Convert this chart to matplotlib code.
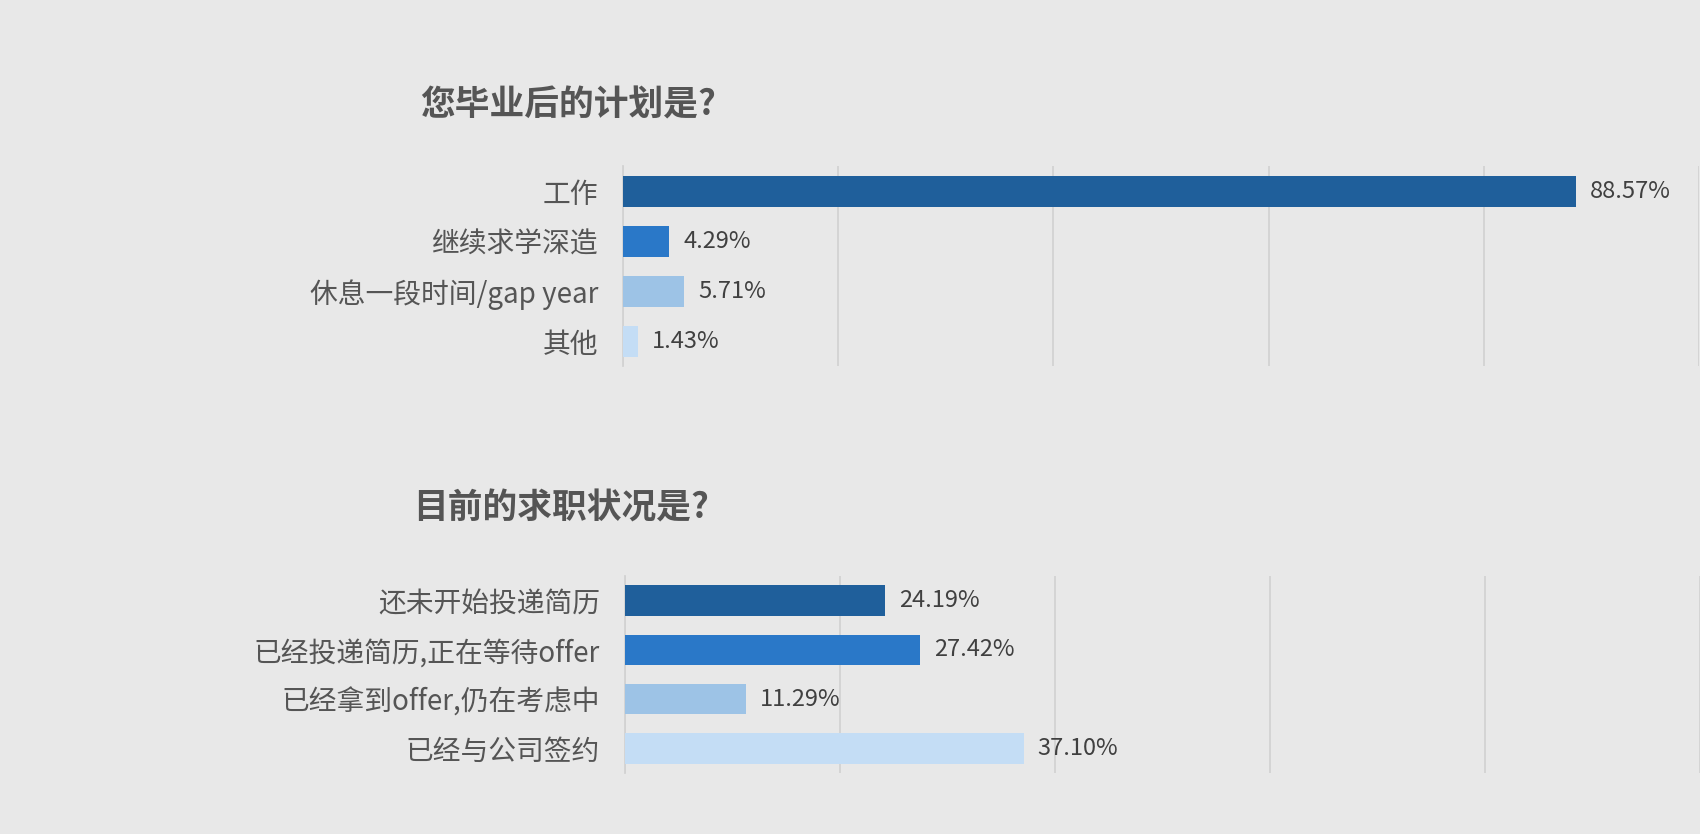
import matplotlib
matplotlib.use("Agg")
import matplotlib.pyplot as plt

plt.rcParams['font.family'] = ['Noto Sans CJK SC', 'DejaVu Sans']

title1 = "您毕业后的计划是?"
cats1 = ["工作", "继续求学深造", "休息一段时间/gap year", "其他"]
vals1 = [88.57, 4.29, 5.71, 1.43]

title2 = "目前的求职状况是?"
cats2 = ["还未开始投递简历", "已经投递简历,正在等待offer", "已经拿到offer,仍在考虑中", "已经与公司签约"]
vals2 = [24.19, 27.42, 11.29, 37.10]

colors = ["#1F5F9B", "#2A78C8", "#9DC3E6", "#C4DDF5"]
BG = "#E8E8E8"

fig = plt.figure(figsize=(17, 8.34), dpi=100, facecolor=BG)

def draw(rect, cats, vals, title, title_xy):
    ax = fig.add_axes(rect)
    ax.set_facecolor(BG)
    y = list(range(len(cats)))
    ax.barh(y, vals, height=0.62, color=colors, zorder=3)
    ax.set_xlim(0, 100)
    ax.set_ylim(len(cats) - 0.5, -0.5)
    ax.set_xticks([0, 20, 40, 60, 80, 100])
    ax.xaxis.grid(True, color="#D2D2D2", linewidth=1.3, zorder=0)
    ax.set_xticklabels([])
    ax.tick_params(axis='x', length=0)
    ax.set_yticks(y)
    ax.set_yticklabels(cats, fontsize=20, color="#555555", fontweight="light")
    ax.tick_params(axis='y', length=0, pad=18)
    for s in ["top", "right", "bottom"]:
        ax.spines[s].set_visible(False)
    ax.spines["left"].set_color("#D2D2D2")
    ax.spines["left"].set_linewidth(1.3)
    for yi, v in zip(y, vals):
        ax.text(v + 1.3, yi, f"{v:.2f}%", va="center", ha="left",
                fontsize=17, color="#404040", fontweight="light", zorder=4)
    fig.text(title_xy[0], title_xy[1], title, fontsize=25, fontweight="bold",
             color="#555555", ha="center", va="center")
    return ax

draw([623/1700, 468/834, 1076/1700, 200/834], cats1, vals1, title1,
     (568/1700, 1 - 105/834))
draw([625/1700, 61/834, 1075/1700, 197/834], cats2, vals2, title2,
     (561/1700, 1 - 508/834))

fig.savefig("out.png", dpi=100, facecolor=BG)
